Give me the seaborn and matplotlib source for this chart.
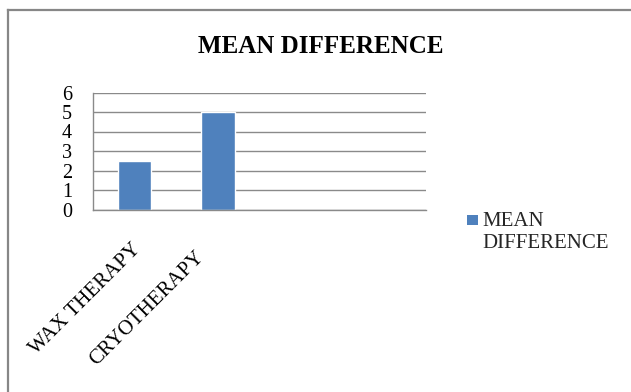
import numpy as np
import pandas as pd
import seaborn as sns
import matplotlib
matplotlib.use("Agg")
import matplotlib.pyplot as plt
from matplotlib.patches import Rectangle
from matplotlib.lines import Line2D
from matplotlib.legend_handler import HandlerPatch
from matplotlib.transforms import ScaledTranslation

# Data
categories = ["WAX THERAPY", "CRYOTHERAPY"]
values = [2.5, 5.0]
n_slots = 4
y_ticks = [0, 1, 2, 3, 4, 5, 6]
title = "MEAN DIFFERENCE"
series_name = "MEAN\nDIFFERENCE"

sns.set_theme(style="white")
plt.rcParams["font.family"] = ["Liberation Serif", "DejaVu Serif"]

W, H = 631, 392
fig = plt.figure(figsize=(W / 100, H / 100), dpi=100)
fig.patch.set_facecolor("white")
fig.patch.set_edgecolor("white")
fig.patch.set_linewidth(0)

def fx(px):
    return px / W

def fy(py):
    return 1 - py / H

ax = fig.add_axes([fx(93), fy(209.5), fx(426) - fx(93), fy(92.5) - fy(209.5)])

bar_color = "#4F81BD"
df = pd.DataFrame({"category": categories, "value": values})
sns.barplot(data=df, x="category", y="value", color=bar_color, saturation=1,
            width=0.4, ax=ax)

grid_c = "#8a8a8a"
ax.set_xlim(-0.5, n_slots - 0.5)
ax.set_ylim(0, 6)
ax.set_yticks(y_ticks)
ax.set_yticklabels([str(t) for t in y_ticks])
ax.yaxis.grid(True, color=grid_c, linewidth=1.0)
ax.set_axisbelow(True)
ax.set_xlabel("")
ax.set_ylabel("")

for s in ["top", "right"]:
    ax.spines[s].set_visible(False)
for s in ["left", "bottom"]:
    ax.spines[s].set_color(grid_c)
    ax.spines[s].set_linewidth(1.0)

ax.tick_params(axis="y", which="major", direction="out", length=3.6, width=1.0,
               color=grid_c, pad=11.5, labelsize=14.5, labelcolor="black")
ax.set_xticks(range(len(categories)))
ax.set_xticklabels(categories)
ax.set_xticks(np.arange(-0.5, n_slots), minor=True)
ax.tick_params(axis="x", which="major", length=0, pad=22, labelsize=15,
               labelcolor="black")
ax.tick_params(axis="x", which="minor", direction="out", length=3.6, width=1.0,
               color=grid_c)

label_shift = [(-3, 0), (-23, -8)]
for lab, (dx, dy) in zip(ax.get_xticklabels(), label_shift):
    lab.set_rotation(45)
    lab.set_ha("right")
    lab.set_va("top")
    lab.set_rotation_mode("anchor")
    lab.set_transform(lab.get_transform() +
                      ScaledTranslation(dx / 100, dy / 100, fig.dpi_scale_trans))

# Title
fig.text(fx(321), fy(53), title, ha="center", va="baseline",
         fontsize=18, fontweight="bold", color="black")

# Legend: square key aligned with the first line of the label
def first_line_square(legend, orig_handle, xdescent, ydescent, width, height, fontsize):
    side = 7.6
    return Rectangle((-xdescent, -ydescent + 9.0), side, side)

legend_key = Rectangle((0, 0), 1, 1, facecolor=bar_color, edgecolor="none")
fig.legend([legend_key], [series_name], loc="upper left",
           bbox_to_anchor=(fx(467), fy(212)), bbox_transform=fig.transFigure,
           frameon=False, fontsize=15, borderpad=0, borderaxespad=0,
           handlelength=0.5, handleheight=0.5, handletextpad=0.25,
           labelspacing=0,
           handler_map={legend_key: HandlerPatch(patch_func=first_line_square)})

# Chart area border (left and top edges)
border_c = "#878787"
fig.add_artist(Line2D([fx(7.5), fx(7.5)], [0, fy(9.5)], transform=fig.transFigure,
                      color=border_c, linewidth=1.6, solid_capstyle="projecting"))
fig.add_artist(Line2D([fx(7.5), 1], [fy(9.5), fy(9.5)], transform=fig.transFigure,
                      color=border_c, linewidth=1.6, solid_capstyle="projecting"))

fig.savefig("out.png", dpi=100)
